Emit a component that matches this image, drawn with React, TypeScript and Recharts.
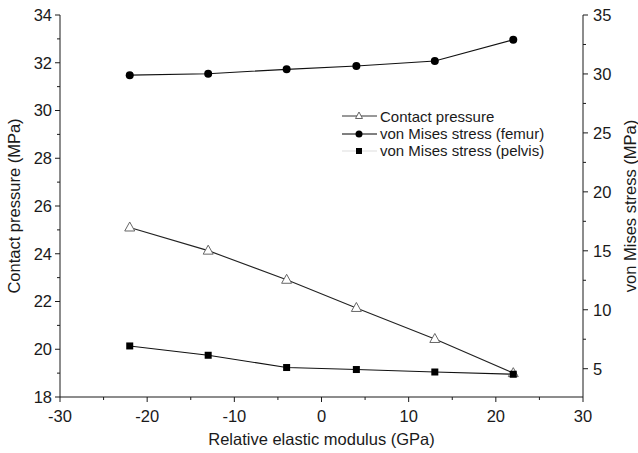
import React from "react";
import { LineChart, Line, XAxis, YAxis } from "recharts";

const modulus = [-22, -13, -4, 4, 13, 22];
const contactPressure = [25.1, 24.13, 22.91, 21.73, 20.43, 19.0];
const femurStress = [29.9, 30.02, 30.39, 30.67, 31.1, 32.9];
const pelvisStress = [6.93, 6.14, 5.1, 4.93, 4.72, 4.53];

const xTicks = [-30, -25, -20, -15, -10, -5, 0, 5, 10, 15, 20, 25, 30];
const xMajor = [-30, -20, -10, 0, 10, 20, 30];
const leftTicks = [18, 19, 20, 21, 22, 23, 24, 25, 26, 27, 28, 29, 30, 31, 32, 33, 34];
const leftMajor = [18, 20, 22, 24, 26, 28, 30, 32, 34];
const rightTicks = [5, 7.5, 10, 12.5, 15, 17.5, 20, 22.5, 25, 27.5, 30, 32.5, 35];
const rightMajor = [5, 10, 15, 20, 25, 30, 35];

const data = modulus.map((m, i) => ({
  modulus: m,
  contact: contactPressure[i],
  femur: femurStress[i],
  pelvis: pelvisStress[i],
}));

const FONT = "'Liberation Sans', Arial, sans-serif";
const INK = "#1a1a1a";
const TICK_FS = 16.5;
const TITLE_FS = 16.5;

// tickSize/tickMargin are 0, so x/y handed to the tick are the axis line itself
function makeTick(side: "left" | "right" | "bottom" | "top", majors: number[]) {
  return (props: any) => {
    const { x, y, payload } = props;
    const major = majors.includes(payload.value);
    const len = major ? 5 : 3;
    if (side === "left") {
      return (
        <g>
          <line x1={x - len} x2={x} y1={y} y2={y} stroke={INK} />
          {major && (
            <text x={x - 8} y={y} dy="0.36em" textAnchor="end" fontSize={TICK_FS} fill={INK} fontFamily={FONT}>
              {payload.value}
            </text>
          )}
        </g>
      );
    }
    if (side === "right") {
      return (
        <g>
          <line x1={x} x2={x + len} y1={y} y2={y} stroke={INK} />
          {major && (
            <text x={x + 10} y={y} dy="0.36em" textAnchor="start" fontSize={TICK_FS} fill={INK} fontFamily={FONT}>
              {payload.value}
            </text>
          )}
        </g>
      );
    }
    if (side === "bottom") {
      return (
        <g>
          <line x1={x} x2={x} y1={y} y2={y + len} stroke={INK} />
          {major && (
            <text x={x} y={y + 25} textAnchor="middle" fontSize={TICK_FS} fill={INK} fontFamily={FONT}>
              {payload.value}
            </text>
          )}
        </g>
      );
    }
    return <line x1={x} x2={x} y1={y} y2={y + len + 2} stroke={INK} />;
  };
}

function verticalTitle(text: string, dxFromLeft: number) {
  return (props: any) => {
    const vb = props.viewBox;
    const cx = vb.x + dxFromLeft;
    const cy = vb.y + vb.height / 2;
    return (
      <text
        x={cx}
        y={cy}
        transform={`rotate(-90, ${cx}, ${cy})`}
        textAnchor="middle"
        dominantBaseline="central"
        fontSize={TITLE_FS}
        fill={INK}
        fontFamily={FONT}
      >
        {text}
      </text>
    );
  };
}

const TriangleDot = (props: any) => {
  const { cx, cy } = props;
  return (
    <path
      key={props.key ?? `${cx}-${cy}`}
      d={`M${cx},${cy - 5.5} L${cx + 5},${cy + 3.5} L${cx - 5},${cy + 3.5} Z`}
      fill="#fff"
      stroke="#666"
      strokeWidth={1}
    />
  );
};

const SquareDot = (props: any) => {
  const { cx, cy } = props;
  return <rect key={props.key ?? `${cx}-${cy}`} x={cx - 3.5} y={cy - 3.5} width={7} height={7} fill="#000" />;
};

function LegendOverlay() {
  const rows = [
    { label: "Contact pressure", marker: "tri", line: "#333" },
    { label: "von Mises stress (femur)", marker: "circle", line: "#000" },
    { label: "von Mises stress (pelvis)", marker: "square", line: "#ddd" },
  ];
  return (
    <div style={{ position: "absolute", left: 341, top: 107.5, fontFamily: FONT, fontSize: 15, color: INK }}>
      {rows.map((r) => (
        <div key={r.label} style={{ display: "flex", alignItems: "center", height: 17.4 }}>
          <svg width={37} height={14} style={{ marginRight: 2 }}>
            <line x1={1} x2={36} y1={7} y2={7} stroke={r.line} strokeWidth={1} />
            {r.marker === "tri" && <path d="M18,3 L21.5,9.5 L14.5,9.5 Z" fill="#fff" stroke="#666" />}
            {r.marker === "circle" && <circle cx={18} cy={7} r={3.5} fill="#000" />}
            {r.marker === "square" && <rect x={15} y={4} width={6} height={6} fill="#000" />}
          </svg>
          <span style={{ whiteSpace: "nowrap" }}>{r.label}</span>
        </div>
      ))}
    </div>
  );
}

export default function App() {
  return (
    <div style={{ position: "absolute", left: 0, top: 0, width: 638, height: 453, background: "#fff" }}>
      <LineChart width={638} height={453} data={data} margin={{ top: 15, right: 0, bottom: 0, left: 0 }}>
        <XAxis
          xAxisId="bottom"
          dataKey="modulus"
          type="number"
          domain={[-30, 30]}
          ticks={xTicks}
          height={56}
          tickSize={0}
          tickMargin={0}
          tickLine={false}
          axisLine={{ stroke: INK }}
          tick={makeTick("bottom", xMajor)}
          interval={0}
          label={{
            value: "Relative elastic modulus (GPa)",
            position: "insideBottom",
            offset: 8,
            fontSize: TITLE_FS,
            fill: INK,
            fontFamily: FONT,
          }}
        />
        <XAxis
          xAxisId="top"
          orientation="top"
          dataKey="modulus"
          type="number"
          domain={[-30, 30]}
          ticks={xTicks}
          height={0}
          tickSize={0}
          tickMargin={0}
          tickLine={false}
          axisLine={{ stroke: INK }}
          tick={makeTick("top", xMajor)}
          interval={0}
        />
        <YAxis
          yAxisId="left"
          domain={[18, 34]}
          ticks={leftTicks}
          width={60}
          tickSize={0}
          tickMargin={0}
          tickLine={false}
          axisLine={{ stroke: INK }}
          tick={makeTick("left", leftMajor)}
          interval={0}
          allowDataOverflow
          label={{ content: verticalTitle("Contact pressure (MPa)", 14) }}
        />
        <YAxis
          yAxisId="right"
          orientation="right"
          domain={[2.6, 35]}
          ticks={rightTicks}
          width={55}
          tickSize={0}
          tickMargin={0}
          tickLine={false}
          axisLine={{ stroke: INK }}
          tick={makeTick("right", rightMajor)}
          interval={0}
          allowDataOverflow
          label={{ content: verticalTitle("von Mises stress (MPa)", 47) }}
        />
        <Line
          xAxisId="bottom"
          yAxisId="left"
          dataKey="contact"
          stroke="#222"
          strokeWidth={1.1}
          dot={TriangleDot}
          activeDot={false}
          isAnimationActive={false}
        />
        <Line
          xAxisId="bottom"
          yAxisId="right"
          dataKey="femur"
          stroke="#111"
          strokeWidth={1.1}
          dot={{ r: 4, fill: "#000", stroke: "none" }}
          activeDot={false}
          isAnimationActive={false}
        />
        <Line
          xAxisId="bottom"
          yAxisId="right"
          dataKey="pelvis"
          stroke="#111"
          strokeWidth={1.1}
          dot={SquareDot}
          activeDot={false}
          isAnimationActive={false}
        />
      </LineChart>
      <LegendOverlay />
    </div>
  );
}
